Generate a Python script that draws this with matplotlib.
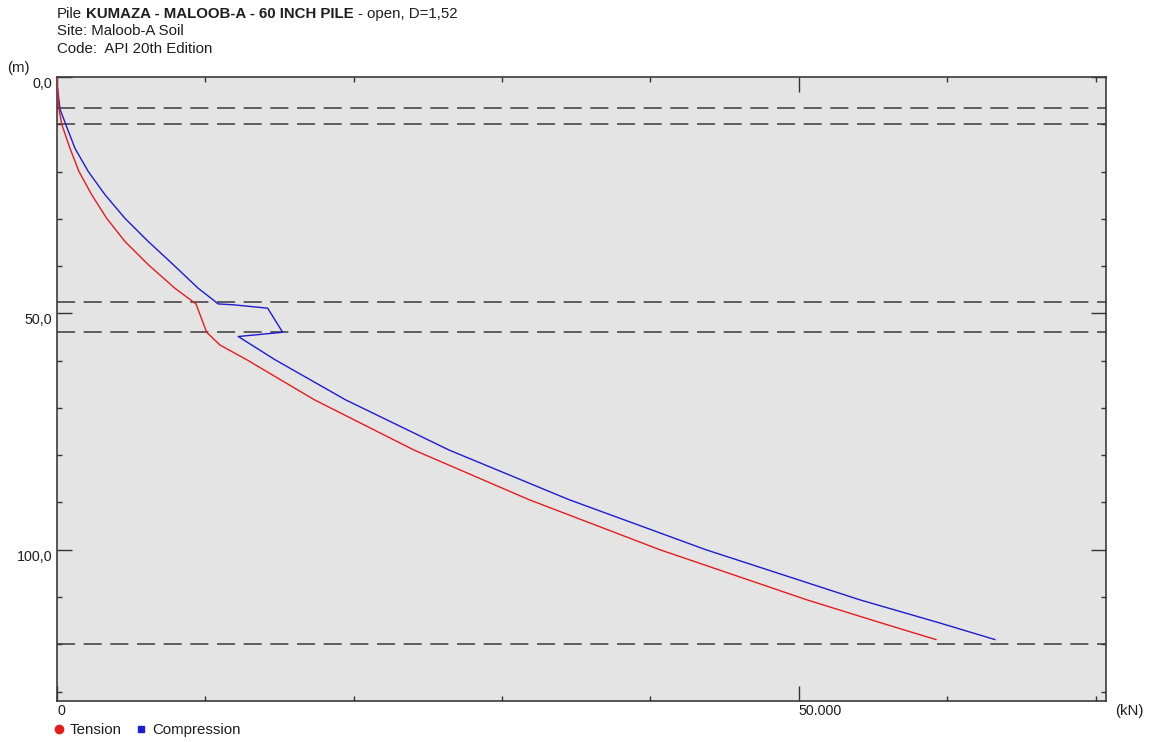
import matplotlib
matplotlib.use('Agg')
import matplotlib.pyplot as plt
from matplotlib.lines import Line2D

plt.rcParams['font.family'] = ['Liberation Sans', 'DejaVu Sans']
plt.rcParams['font.size'] = 10.8
plt.rcParams['lines.scale_dashes'] = False

# capaciteit van de paal (kN) tegen de diepte (m)
tension_depth = [0.0, 2.0, 6.8, 10.0, 15.1, 20.0, 24.9, 29.9, 34.8, 39.7, 44.7, 48.0,
                 54.0, 56.7, 59.8, 68.3, 78.9, 89.4, 100.0, 110.6, 115.4, 119.0]
tension_kn = [0, 20, 135, 317, 876, 1482, 2338, 3349, 4582, 6152, 7951, 9367,
              10088, 10984, 12783, 17358, 24050, 31806, 40633, 50539, 55458, 59232]

compression_depth = [0.0, 2.0, 6.8, 10.0, 15.1, 20.0, 24.9, 29.9, 34.8, 39.7, 44.7, 48.0,
                     48.2, 48.9, 54.0, 54.9, 59.8, 68.3, 78.9, 89.4, 100.0, 110.6, 115.5, 119.0]
compression_kn = [0, 20, 202, 586, 1213, 2109, 3235, 4582, 6152, 7837, 9521, 10869,
                  11927, 14198, 15209, 12217, 14690, 19454, 26415, 34501, 43733, 54111, 59501, 63208]

# laaggrenzen (m)
layer_depths = [6.6, 10.0, 47.7, 53.9, 120.0]

y_major = [0, 50, 100]
y_major_labels = ['0,0', '50,0', '100,0']
y_minor = [10, 20, 30, 40, 60, 70, 80, 90, 110, 120, 130]
x_major = [0, 50000]
x_major_labels = ['0', '50.000']
x_minor = [10000, 20000, 30000, 40000, 60000, 70000]

W, H = 1151, 742
fig = plt.figure(figsize=(W / 100, H / 100), dpi=100)
ax = fig.add_axes([57 / W, 1 - 701 / H, (1106 - 57) / W, (701 - 77) / H])
ax.set_facecolor('#e4e4e4')

for d in layer_depths:
    ax.axhline(d, color='#3a3a3a', lw=1.1, dashes=(13, 6.2), zorder=1.5)

ax.plot(compression_kn, compression_depth, color='#1c1cd0', lw=1.0, zorder=3)
ax.plot(tension_kn, tension_depth, color='#e61c1c', lw=1.0, zorder=3.1)

ax.set_xlim(0, 70700)
ax.set_ylim(132, 0)

ax.set_xticks(x_major)
ax.set_xticklabels(x_major_labels)
ax.set_xticks(x_minor, minor=True)
ax.set_yticks(y_major)
ax.set_yticklabels(y_major_labels)
ax.set_yticks(y_minor, minor=True)

ax.tick_params(which='both', direction='in', top=True, right=True,
               color='#333333', labelcolor='#1e1e1e', labelsize=10.3)
ax.tick_params(which='major', length=11, width=1.0)
ax.tick_params(which='minor', length=3.8, width=1.0)
ax.tick_params(axis='x', pad=2.5)
ax.tick_params(axis='y', pad=3.6)
for lbl in ax.get_xticklabels():
    lbl.set_ha('left')
for lbl in ax.get_yticklabels():
    lbl.set_va('top')
    lbl.set_y(0)

for sp in ax.spines.values():
    sp.set_color('#3a3a3a')
    sp.set_linewidth(1.2)

# kop
t1 = fig.text(57 / W, 1 - 14 / H, 'Pile', va='center', ha='left', color='#1e1e1e')
t2 = ax.annotate('KUMAZA - MALOOB-A - 60 INCH PILE', xy=(1, 0), xycoords=t1,
                 xytext=(3, 0), textcoords='offset points', va='bottom', ha='left',
                 fontweight='bold', color='#1e1e1e', annotation_clip=False)
t3 = ax.annotate('- open, D=1,52', xy=(1, 0), xycoords=t2,
                 xytext=(3, 0), textcoords='offset points', va='bottom', ha='left',
                 color='#1e1e1e', annotation_clip=False)
fig.text(57 / W, 1 - 31 / H, 'Site: Maloob-A Soil', va='center', ha='left', color='#1e1e1e')
fig.text(57 / W, 1 - 49 / H, 'Code:  API 20th Edition', va='center', ha='left', color='#1e1e1e')

fig.text(18 / W, 1 - 68 / H, '(m)', va='center', ha='center', color='#1e1e1e')
fig.text(1129 / W, 1 - 711 / H, '(kN)', va='center', ha='center', color='#1e1e1e')

handles = [Line2D([], [], marker='o', color='#e61c1c', linestyle='none', markersize=6),
           Line2D([], [], marker='s', color='#1c1cd0', linestyle='none', markersize=5)]
fig.legend(handles, ['Tension', 'Compression'], loc='center left',
           bbox_to_anchor=(54 / W, 1 - 730 / H), ncol=2, frameon=False,
           handlelength=0.6, handletextpad=0.45, columnspacing=1.0,
           borderpad=0, borderaxespad=0, fontsize=10.8, labelcolor='#1e1e1e')

fig.savefig('out.png', dpi=100)
